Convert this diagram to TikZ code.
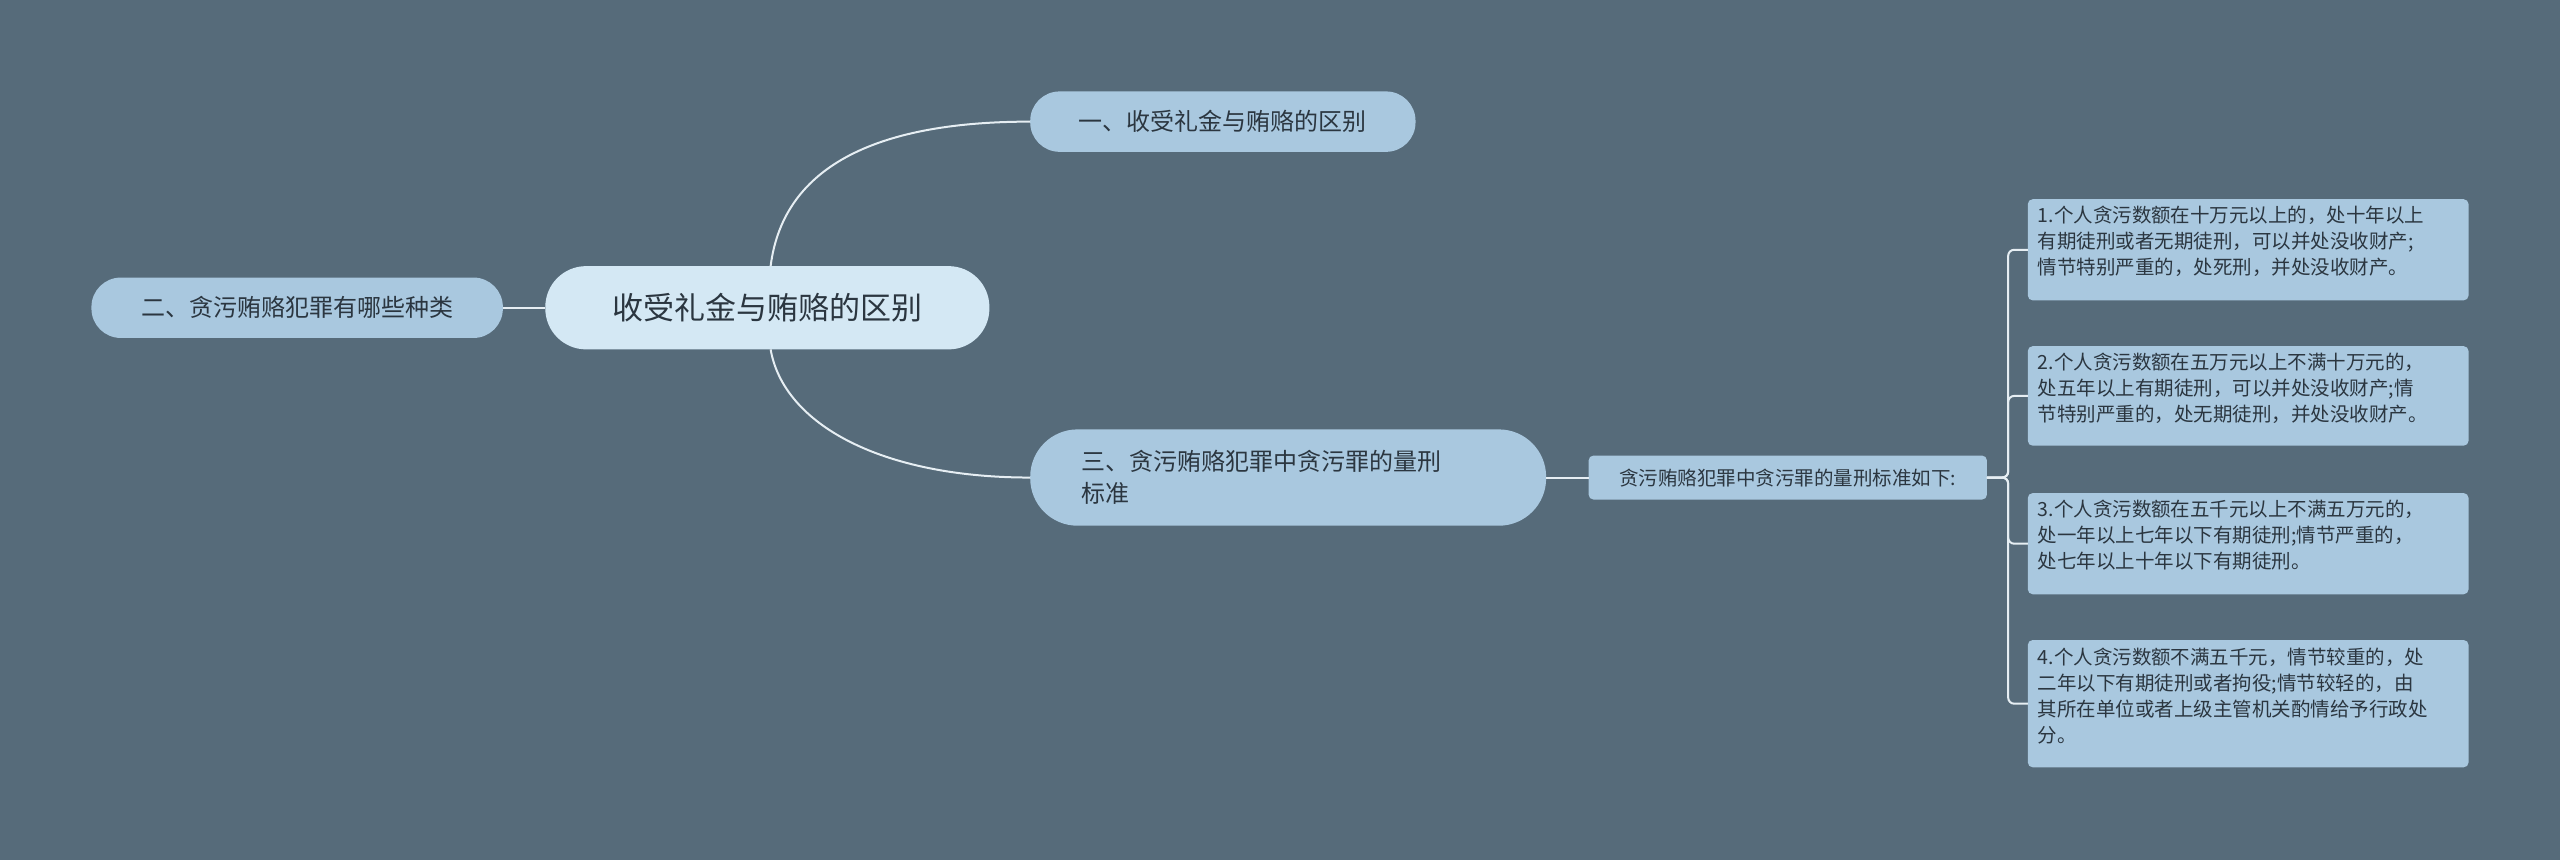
\documentclass[tikz,border=0pt]{standalone}
\usepackage{fontspec}
\setmainfont{Noto Sans CJK SC}
\begin{document}
\begin{tikzpicture}[x=1.633pt,y=-1.633pt]
\definecolor{bg}{HTML}{566B7A}
\definecolor{lv0}{HTML}{D4E8F4}
\definecolor{lv1}{HTML}{A9C8DF}
\definecolor{ln}{HTML}{E6EEF3}
\definecolor{tx}{HTML}{2B3640}
\tikzset{
 pill/.style={draw=none,fill=lv1,rounded corners=18*1.633pt,text=tx,font=\fontsize{24pt}{32pt}\selectfont,inner sep=0pt,anchor=west},
 leaf/.style={fill=lv1,rounded corners=5pt,text=tx,font=\fontsize{19.5pt}{26pt}\selectfont,align=left,anchor=north west,inner sep=0pt},
 con/.style={draw=ln,line width=2pt}
}
\fill[bg] (0,0) rectangle (1568,527);
\useasboundingbox (0,0) rectangle (1568,527);
\path[pill,fill=lv0,rounded corners=25*1.633pt] (334,163) rectangle (606,214);
\node[text=tx,font=\fontsize{31pt}{36pt}\selectfont] (c) at (470,188.5) {收受礼金与贿赂的区别};
\path[pill] (56,170) rectangle (308,207);
\node[text=tx,font=\fontsize{24pt}{30pt}\selectfont] (l) at (182,188.5) {二、贪污贿赂犯罪有哪些种类};
\path[pill] (631,56) rectangle (867,93);
\node[text=tx,font=\fontsize{24pt}{30pt}\selectfont] (t) at (749,74.5) {一、收受礼金与贿赂的区别};
\path[pill,rounded corners=29*1.633pt] (631,263) rectangle (947,322);
\node[text=tx,font=\fontsize{24pt}{32pt}\selectfont,align=left,anchor=west] (b) at (660,292.5) {三、贪污贿赂犯罪中贪污罪的量刑\\标准};
\path[fill=lv1,rounded corners=5pt] (973,279) rectangle (1217,306);
\node[text=tx,font=\fontsize{19.5pt}{24pt}\selectfont] (m) at (1095,292.5) {贪污贿赂犯罪中贪污罪的量刑标准如下:};
\foreach \i/\a/\b in {1/122/184,2/212/273,3/302/364,4/392/470}{
 \path[fill=lv1,rounded corners=5pt] (1242,\a) rectangle (1512,\b);
 \coordinate (p\i) at (1242,{(\a+\b)/2});
}
\node[leaf,fill=none] at (1248,126) {1.个人贪污数额在十万元以上的，处十年以上\\有期徒刑或者无期徒刑，可以并处没收财产;\\情节特别严重的，处死刑，并处没收财产。};
\node[leaf,fill=none] at (1248,216) {2.个人贪污数额在五万元以上不满十万元的，\\处五年以上有期徒刑，可以并处没收财产;情\\节特别严重的，处无期徒刑，并处没收财产。};
\node[leaf,fill=none] at (1248,306) {3.个人贪污数额在五千元以上不满五万元的，\\处一年以上七年以下有期徒刑;情节严重的，\\处七年以上十年以下有期徒刑。};
\node[leaf,fill=none] at (1248,397) {4.个人贪污数额不满五千元，情节较重的，处\\二年以下有期徒刑或者拘役;情节较轻的，由\\其所在单位或者上级主管机关酌情给予行政处\\分。};
\coordinate (cl) at (334,188.5); \coordinate (lr) at (308,188.5);
\coordinate (ct) at (472,163); \coordinate (cb) at (472,214);
\coordinate (tl) at (631,74.5); \coordinate (bl) at (631,292.5);
\coordinate (br) at (947,292.5); \coordinate (ml) at (973,292.5);
\coordinate (mr) at (1217,292.5);
\draw[con] (lr) -- (cl);
\draw[con] (ct) .. controls (480,100) and (540,74.5) .. (tl);
\draw[con] (cb) .. controls (480,260) and (540,292.5) .. (bl);
\draw[con] (br) -- (ml);
\foreach \i in {1,2,3,4}{
 \draw[con,rounded corners=6pt] (mr) -- (1230,292.5) |- (p\i);
}
\end{tikzpicture}
\end{document}
